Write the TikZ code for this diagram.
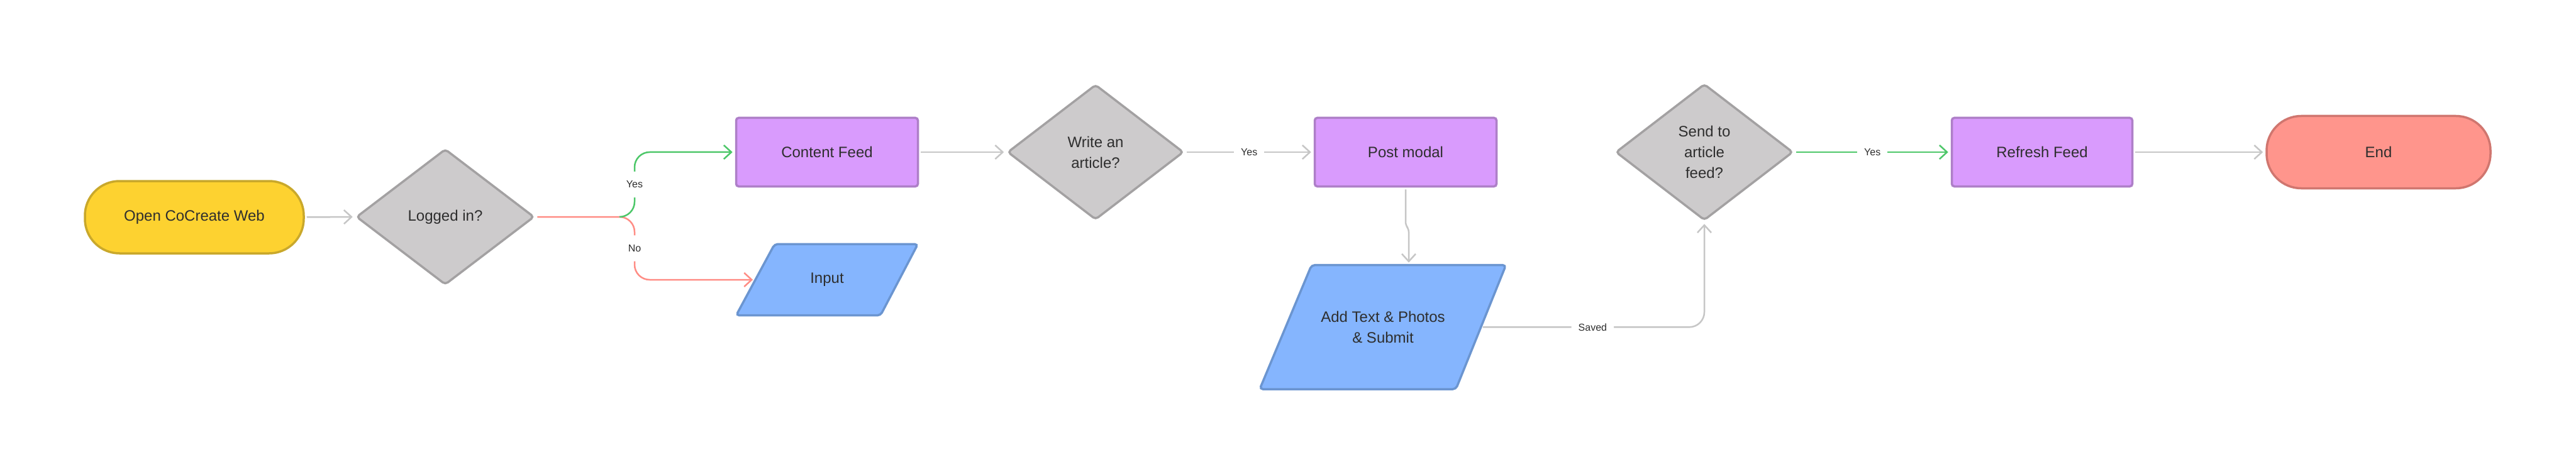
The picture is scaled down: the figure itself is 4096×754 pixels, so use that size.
\documentclass[tikz,border=0pt]{standalone}
\usepackage{fontspec}
\setmainfont{Liberation Sans}
\usetikzlibrary{shapes.geometric,arrows.meta,calc}
\definecolor{txt}{HTML}{2E2E2E}
\definecolor{yelF}{HTML}{FDD230}
\definecolor{yelB}{HTML}{C9A82B}
\definecolor{greyF}{HTML}{CDCBCC}
\definecolor{greyB}{HTML}{A3A1A2}
\definecolor{purF}{HTML}{D99BFD}
\definecolor{purB}{HTML}{AE7FC8}
\definecolor{bluF}{HTML}{85B5FE}
\definecolor{bluB}{HTML}{6B95D0}
\definecolor{endF}{HTML}{FF958C}
\definecolor{endB}{HTML}{D0766F}
\definecolor{lineG}{HTML}{C6C6C6}
\definecolor{lineGreen}{HTML}{4DC769}
\definecolor{lineRed}{HTML}{FF8D85}
\tikzset{
  base/.style={font=\fontsize{24}{33}\selectfont, text=txt, line width=3.5pt, align=center, inner sep=0pt},
  term/.style={base, rectangle, rounded corners=55pt, minimum height=115pt},
  proc/.style={base, rectangle, rounded corners=4pt, draw=purB, fill=purF, minimum width=289pt, minimum height=109pt},
  decision/.style={base, diamond, draw=greyB, fill=greyF, rounded corners=5pt},
  ioshape/.style={line width=3.5pt, draw=bluB, fill=bluF, rounded corners=5pt},
  iotext/.style={base},
  conn/.style={line width=2.5pt, draw=lineG, -{Straight Barb[length=12pt,width=22pt,line width=2.5pt]}, shorten >=4pt, shorten <=3pt},
  lbl/.style={fill=white, font=\fontsize{16}{16}\selectfont, text=txt, inner xsep=11pt, inner ysep=15pt}
}
\begin{document}
\begin{tikzpicture}[x=1pt,y=-1pt]
\useasboundingbox (0,0) rectangle (4096,754);
\fill[white] (0,0) rectangle (4096,754);

\node[term, draw=yelB, fill=yelF, minimum width=348pt] (start) at (309,345.5) {Open CoCreate Web};
\node[decision, minimum width=283pt, minimum height=216pt] (logged) at (708,345) {Logged in?};
\node[proc] (content) at (1315,242) {Content Feed};

% Input parallelogram
\coordinate (inTL) at (1231.7,388.3);
\coordinate (inTR) at (1459.4,388.3);
\coordinate (inBR) at (1400,501.7);
\coordinate (inBL) at (1170.5,501.7);
\draw[ioshape] (inTL) -- (inTR) -- (inBR) -- (inBL) -- cycle;
\node[iotext] (input) at (1315,445) {Input};
\coordinate (inW) at ($(inTL)!0.5!(inBL)$);

\node[decision, minimum width=280pt, minimum height=215pt] (write) at (1742,242) {Write an\\article?};
\node[proc] (post) at (2235,242) {Post modal};

% Add text parallelogram
\coordinate (atTL) at (2085.5,421.7);
\coordinate (atTR) at (2394.5,421.7);
\coordinate (atBR) at (2315,619);
\coordinate (atBL) at (2003,619);
\draw[ioshape] (atTL) -- (atTR) -- (atBR) -- (atBL) -- cycle;
\node[iotext] (addtext) at (2199,520) {Add Text \& Photos\\\& Submit};
\coordinate (attop) at ($(atTL)!0.5!(atTR)$);
\coordinate (aright) at ($(atTR)!0.5!(atBR)$);

\node[decision, minimum width=282pt, minimum height=217pt] (send) at (2710,242) {Send to\\article\\feed?};
\node[proc, minimum width=287pt] (refresh) at (3247,242) {Refresh Feed};
\node[term, draw=endB, fill=endF, minimum width=356pt] (end) at (3782,242) {End};

\coordinate (j) at (1009,345);

\draw[conn] (start.east) -- (logged.west);
\draw[conn, draw=lineRed, rounded corners=24pt] (logged.east) -- (j) -- node[lbl]{No} (j |- inW) -- (inW);
\draw[conn, draw=lineGreen, rounded corners=24pt, shorten <=0pt] ($(j)+(-24,0)$) -- (j) -- node[lbl]{Yes} (j |- content.west) -- (content.west);
\draw[conn] (content.east) -- (write.west);
\draw[conn] (write.east) -- node[lbl]{Yes} (post.west);
\draw[conn, rounded corners=5pt] (post.south) -- ($(post.south)+(0,60)$) -- ($(attop |- post.south)+(0,66)$) -- (attop);
\draw[conn, rounded corners=24pt] (aright) -- node[lbl]{Saved} (aright -| send.south) -- (send.south);
\draw[conn, draw=lineGreen] (send.east) -- node[lbl]{Yes} (refresh.west);
\draw[conn] (refresh.east) -- (end.west);
\end{tikzpicture}
\end{document}
